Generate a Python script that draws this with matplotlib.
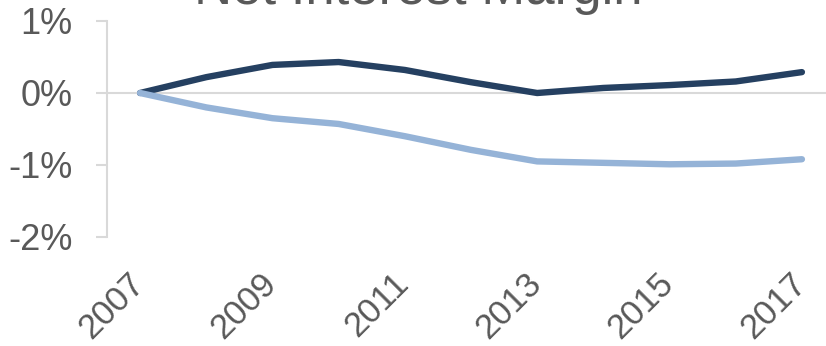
import matplotlib.pyplot as plt
import matplotlib.transforms as mtransforms
from matplotlib.ticker import FuncFormatter

plt.rcParams['font.family'] = ['Liberation Sans', 'DejaVu Sans']

# Net interest margin change since 2007, in percentage points
years = [2007, 2008, 2009, 2010, 2011, 2012, 2013, 2014, 2015, 2016, 2017]
series_dark = [0.0, 0.22, 0.39, 0.43, 0.32, 0.15, 0.0, 0.07, 0.11, 0.16, 0.29]
series_light = [0.0, -0.20, -0.35, -0.43, -0.60, -0.79, -0.95, -0.97, -0.99, -0.98, -0.92]
tick_years = [2007, 2009, 2011, 2013, 2015, 2017]
y_ticks = [1, 0, -1, -2]

grey_text = '#595959'
grey_line = '#d9d9d9'

W, H = 826, 346
fig = plt.figure(figsize=(W / 100, H / 100), dpi=100)
ax = fig.add_axes([107 / W, 1 - 237 / H, (835 - 107) / W, (237 - 21) / H])

ax.plot(years, series_dark, color='#254061', lw=4.6, solid_capstyle='round',
        solid_joinstyle='round', zorder=3)
ax.plot(years, series_light, color='#95B3D7', lw=4.6, solid_capstyle='round',
        solid_joinstyle='round', zorder=4)

ax.axhline(0, color=grey_line, lw=1.5, zorder=1)

ax.set_xlim(2006.5, 2017.5)
ax.set_ylim(-2, 1)
ax.set_yticks(y_ticks)
ax.yaxis.set_major_formatter(FuncFormatter(lambda v, p: f'{v:.0f}%'))
ax.set_xticks(tick_years)
ax.set_xticklabels([str(y) for y in tick_years], rotation=45, ha='right',
                   va='center', rotation_mode='anchor')

for side in ['top', 'right', 'bottom']:
    ax.spines[side].set_visible(False)
ax.spines['left'].set_color(grey_line)
ax.spines['left'].set_linewidth(1.5)

ax.tick_params(axis='y', length=8, width=1.5, color=grey_line, pad=17,
               labelsize=26, labelcolor=grey_text)
ax.tick_params(axis='x', length=0, pad=30, labelsize=25, labelcolor=grey_text)

shift = mtransforms.ScaledTranslation(-1 / 100, 0, fig.dpi_scale_trans)
for lbl in ax.get_xticklabels():
    lbl.set_transform(lbl.get_transform() + shift)

fig.text(418 / W, 1 - 4 / H, 'Net Interest Margin', ha='center', va='baseline',
         fontsize=38, color=grey_text)

fig.savefig('out.png', dpi=100)
